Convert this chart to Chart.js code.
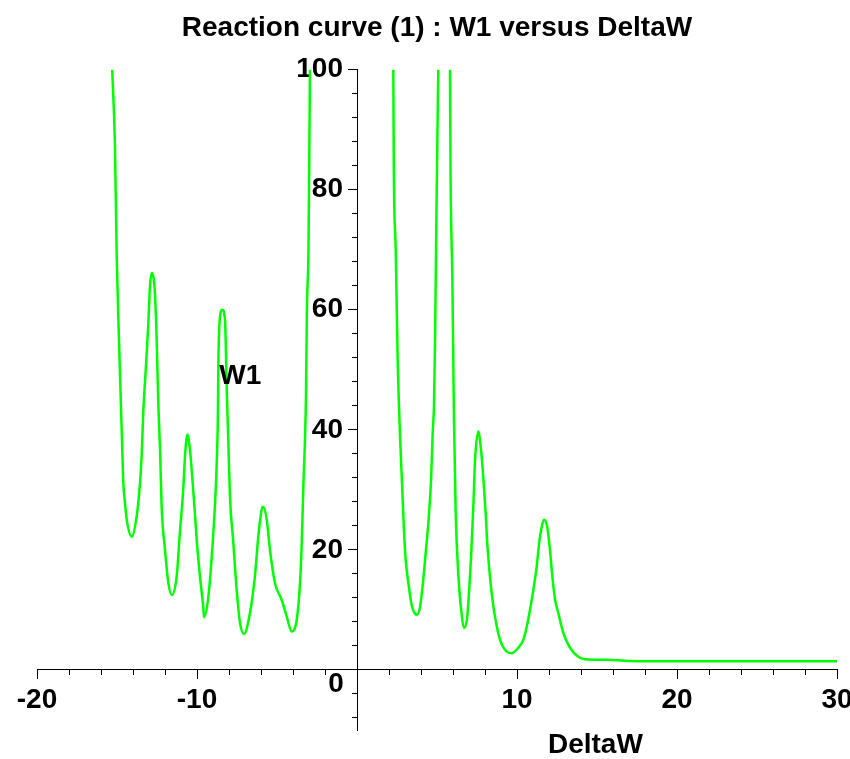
<!DOCTYPE html>
<html>
<head>
<meta charset="utf-8">
<script src="https://cdn.jsdelivr.net/npm/chart.js@4"></script>
<style>
  html, body { margin: 0; padding: 0; background: #fff; }
</style>
</head>
<body>
<canvas id="chart" width="850" height="759"></canvas>
<script>
// W1; null entries break the curve at the poles
const deltaW = [
  -15.3, -15.13, -15.02, -14.88, -14.67, -14.61, -14.5, -14.39, -14.08, -13.77,
  -13.56, -13.46, -13.36, -13.19, -13.04, -12.94, -12.83, -12.63, -12.52, -12.42,
  -12.31, -12.21, -12.0, -11.79, -11.58, -11.27, -11.06, -10.86, -10.75, -10.6,
  -10.44, -10.33, -10.13, -10.02, -9.81, -9.61, -9.56, -9.29, -8.98, -8.81,
  -8.74, -8.70, -8.66, -8.56, -8.42, -8.25, -8.14, -8.04, -7.94, -7.73,
  -7.52, -7.31, -7.06, -6.69, -6.38, -6.17, -5.96, -5.86, -5.64, -5.44,
  -5.13, -4.71, -4.39, -4.08, -3.77, -3.56, -3.46, -3.36, -3.19, -3.13,
  -3.03, -2.94,
  0,
  2.27, 2.30, 2.42, 2.54, 2.69, 2.83, 2.94, 3.04, 3.21, 3.42,
  3.73, 3.94, 4.14, 4.31, 4.46, 4.63, 4.73, 4.81, 4.88, 4.96,
  5.08,
  5.4,
  5.81, 5.85, 5.96, 6.06, 6.17, 6.33, 6.48, 6.71, 6.89, 7.02,
  7.13, 7.27, 7.38, 7.58, 7.75, 7.89, 8.04, 8.14, 8.27, 8.42,
  8.63, 8.94, 9.36, 9.67, 10.08, 10.39, 10.61, 10.81, 11.02, 11.23,
  11.39, 11.54, 11.69, 11.89, 12.06, 12.23, 12.38, 12.58, 12.89, 13.31,
  13.83, 14.25, 15.6, 17, 20, 25, 30
];
const w1 = [
  100, 87.5, 69.2, 55.3, 36.7, 31.4, 27.8, 25, 22.2, 25.6,
  31.2, 35.6, 42.8, 50.6, 57.8, 63.9, 66.1, 62.8, 55, 44.5,
  36.7, 27.2, 20, 14.5, 12.5, 15.6, 23.3, 30, 35.6, 39.2,
  36.7, 33.3, 26.1, 21.7, 15.5, 10.5, 8.8, 12.2, 22.8, 31.2,
  36.7, 41.2, 51.7, 58.9, 60, 58.3, 46.7, 37.8, 28.9, 21.2,
  13.3, 7.8, 6.0, 9.5, 15.6, 22.2, 26.7, 27.2, 25, 20,
  14.5, 11.7, 8.9, 6.4, 8.3, 14.5, 20.6, 30, 45.6, 60,
  70.5, 100,
  null,
  100, 84, 70, 52, 39, 30, 23, 18.5, 14.5, 10.8,
  9.2, 10.5, 15, 20, 24.5, 31.7, 39.5, 44, 55, 75,
  100,
  null,
  100, 82, 65, 42, 26, 16, 10.8, 7, 8.8, 13.8,
  18.8, 27.2, 35, 39.7, 36.7, 32.2, 26.2, 21.2, 16.7, 12.8,
  8.8, 5, 3.05, 2.8, 3.7, 5, 7.2, 10, 13.3, 17.2,
  21.2, 23.8, 25, 23.8, 20, 15, 11.7, 9.5, 6.2, 3.7,
  2.2, 1.8, 1.7, 1.5, 1.45, 1.45, 1.45
];

const chartTitle = 'Reaction curve (1) : W1 versus DeltaW';
const xTitle = 'DeltaW';
const curveLabel = 'W1';
const xRange = [-20, 30];
const yRange = [-10, 100];

const labelFont = { family: '"Liberation Sans", Arial, sans-serif', size: 28, weight: 'bold' };

// scales sit on the other axis, so they should not eat into the chart area
function noSize(scale) {
  if (scale.isHorizontal()) {
    scale.height = 0;
  } else {
    scale.width = 0;
  }
  scale.paddingLeft = 0;
  scale.paddingRight = 0;
  scale.paddingTop = 0;
  scale.paddingBottom = 0;
}

function axis(pos, min, max, step, tickLen, showLabels, callback) {
  return {
    type: 'linear',
    position: pos,
    min: min,
    max: max,
    afterFit: noSize,
    border: { color: '#000', width: 1 },
    grid: { drawOnChartArea: false, drawTicks: true, tickLength: tickLen, color: '#000' },
    ticks: {
      display: showLabels,
      stepSize: step,
      includeBounds: false,
      autoSkip: false,
      maxRotation: 0,
      color: '#000',
      font: labelFont,
      padding: 5,
      callback: callback
    }
  };
}

// y labels hang off a scale placed a little left of the y axis (no line, no ticks)
const yLabelAxis = axis({ x: -0.875 }, yRange[0], yRange[1], 20, 0, true, v => (v <= 0 ? '' : v));
yLabelAxis.border = { display: false };
yLabelAxis.grid = { display: false, drawTicks: false };
yLabelAxis.ticks.padding = 0;

const extraLabels = {
  id: 'extraLabels',
  afterDraw(chart) {
    const { ctx, chartArea } = chart;
    const x = chart.scales.x;
    const y = chart.scales.y;
    ctx.save();
    ctx.font = 'bold 28px "Liberation Sans", Arial, sans-serif';
    ctx.fillStyle = '#000';
    ctx.textAlign = 'center';
    ctx.textBaseline = 'middle';
    ctx.fillText(curveLabel, x.getPixelForValue(-7.3), y.getPixelForValue(49));
    ctx.fillText('0', x.getPixelForValue(0) - 21, y.getPixelForValue(0) + 14);
    ctx.fillText(xTitle, x.getPixelForValue(14.9), chartArea.bottom + 15);
    ctx.restore();
  }
};

const points = deltaW.map((v, i) => ({ x: v, y: w1[i] }));

new Chart(document.getElementById('chart').getContext('2d'), {
  type: 'line',
  data: {
    datasets: [{
      data: points,
      borderColor: '#00ff00',
      borderWidth: 2.5,
      pointRadius: 0,
      fill: false,
      cubicInterpolationMode: 'monotone'
    }]
  },
  options: {
    responsive: false,
    animation: false,
    layout: { padding: { left: 37, right: 13, top: 0, bottom: 29 } },
    plugins: {
      legend: { display: false },
      tooltip: { enabled: false },
      title: {
        display: true,
        text: chartTitle,
        color: '#000',
        font: labelFont,
        padding: { top: 11, bottom: 25 }
      }
    },
    scales: {
      x: axis({ y: 0 }, xRange[0], xRange[1], 10, 9, true, v => (v === 0 ? '' : v)),
      x2: axis({ y: 0 }, xRange[0], xRange[1], 2, 5, false),
      y: axis({ x: 0 }, yRange[0], yRange[1], 20, 9, false),
      y2: axis({ x: 0 }, yRange[0], yRange[1], 4, 5, false),
      ylabels: yLabelAxis
    }
  },
  plugins: [extraLabels]
});
</script>
</body>
</html>
